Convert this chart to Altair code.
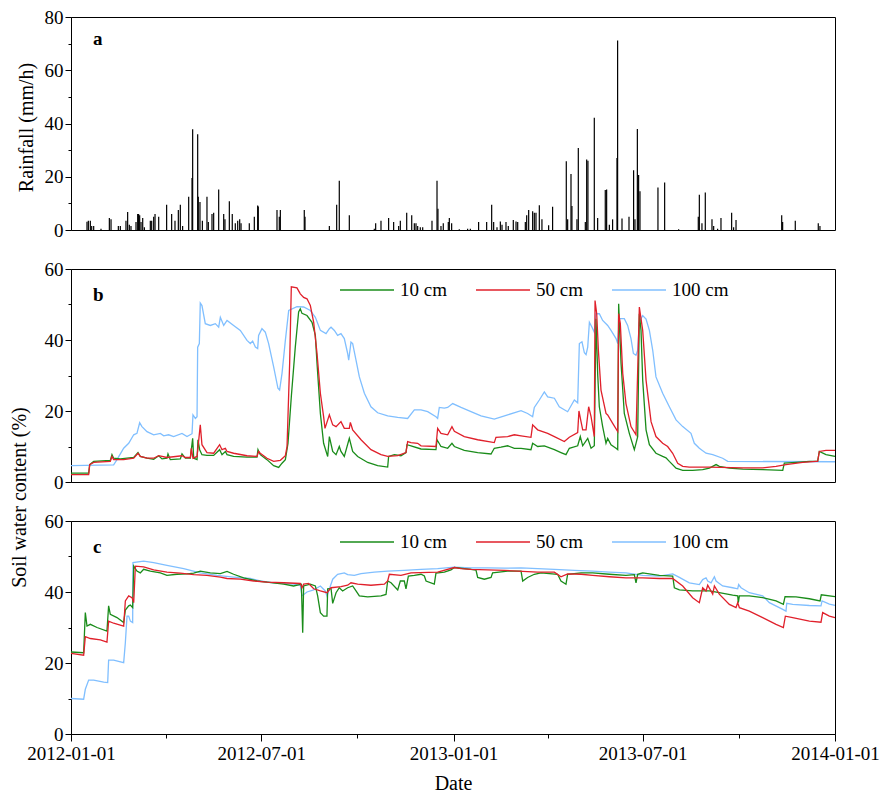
import altair as alt
import pandas as pd

FONT = "Liberation Serif"
START = pd.Timestamp("2012-01-01")

# ---------------- data (day offset from 2012-01-01, value) ----------------
rain = [
    (15.3, 3.1), (16.6, 3.5), (18.5, 3.5), (19.8, 1.5), (21.7, 1.5), (28.7, 0.5), (36.7, 4.5), (38.3, 4.0),
    (45.3, 1.5), (47.2, 1.5), (52.6, 3.5), (54.2, 6.8), (55.8, 2.0), (57.4, 1.5), (62.2, 3.0), (63.8, 6.0),
    (64.7, 6.0), (65.7, 5.5), (67.0, 3.0), (68.6, 4.5), (70.2, 1.0), (75.9, 3.5), (77.2, 3.5), (79.1, 5.0),
    (80.4, 6.0), (83.9, 5.0), (91.5, 9.5), (96.3, 6.0), (99.5, 3.5), (102.7, 7.5), (104.6, 9.5), (106.8, 1.5),
    (112.6, 12.5), (115.8, 19.5), (116.4, 37.8), (121.2, 36.0), (121.8, 12.5), (123.4, 10.5), (125.7, 3.5),
    (130.1, 12.5), (131.4, 3.0), (134.9, 6.0), (136.5, 6.5), (141.3, 15.2), (146.1, 6.0), (147.3, 4.0),
    (151.5, 10.8), (154.3, 6.0), (157.2, 2.5), (159.5, 3.5), (161.4, 4.0), (162.7, 2.5), (170.6, 2.5),
    (175.4, 5.0), (178.6, 9.2), (179.2, 8.8), (197.1, 7.5), (199.3, 5.0), (200.3, 7.5), (223.2, 7.5),
    (223.9, 5.0), (247.2, 1.5), (254.2, 9.5), (256.7, 18.5), (266.3, 5.5), (290.2, 0.5), (291.5, 2.5),
    (296.6, 3.5), (303.9, 4.5), (308.7, 3.0), (313.5, 1.5), (315.1, 3.5), (321.2, 6.5), (326.0, 5.5),
    (328.5, 2.5), (330.1, 2.5), (331.7, 1.5), (334.2, 1.0), (336.5, 1.0), (345.4, 3.5), (350.2, 18.5),
    (351.1, 8.0), (354.0, 1.5), (356.2, 2.5), (361.0, 3.0), (362.0, 4.5), (364.2, 2.5), (371.5, 0.3),
    (379.5, 0.5), (382.1, 0.5), (390.0, 3.0), (397.7, 3.0), (402.5, 9.5), (404.4, 3.0), (407.6, 1.0),
    (410.8, 3.2), (412.4, 2.0), (416.2, 3.0), (418.4, 1.5), (423.2, 3.8), (425.8, 3.2), (427.4, 3.0),
    (434.7, 3.0), (436.0, 5.5), (437.9, 7.5), (441.7, 7.0), (443.3, 6.5), (444.9, 6.5), (448.1, 9.3),
    (450.6, 4.0), (457.0, 1.8), (460.8, 8.7), (473.9, 25.8), (475.2, 4.0), (478.4, 21.0), (479.3, 9.0),
    (484.1, 4.0), (485.4, 30.8), (492.1, 3.0), (493.4, 26.5), (494.6, 26.0), (500.7, 42.2), (503.9, 4.5),
    (511.2, 15.0), (512.5, 15.2), (515.1, 2.0), (518.2, 4.0), (522.4, 27.0), (523.0, 71.2), (527.2, 4.3),
    (533.9, 5.0), (538.3, 22.4), (539.6, 4.0), (541.9, 37.9), (543.1, 20.7), (544.4, 14.6), (561.6, 16.0),
    (568.0, 17.8), (581.4, 0.3), (600.2, 5.0), (601.2, 13.2), (603.7, 2.5), (606.9, 14.1), (613.3, 4.0),
    (614.9, 1.5), (618.7, 0.5), (621.9, 4.5), (632.1, 6.5), (634.0, 1.0), (636.3, 3.8), (680.0, 5.5),
    (680.9, 3.0), (693.0, 3.5), (715.0, 2.5), (716.6, 1.5),
]

b_100 = [
    (0, 4.6), (40.8, 4.8), (44.0, 6.3), (50.4, 9.5), (55.2, 10.9), (60.0, 13.3), (63.1, 13.7), (65.7, 16.7),
    (67.9, 15.6), (72.7, 14.2), (79.1, 13.3), (85.5, 13.7), (88.7, 13.0), (93.4, 13.3), (98.2, 12.8),
    (106.2, 13.7), (111.0, 12.8), (115.8, 13.6), (116.7, 18.9), (119.0, 17.9), (120.6, 18.4), (121.2, 38.0),
    (122.8, 39.0), (123.7, 50.4), (125.3, 49.7), (128.5, 44.6), (133.3, 44.1), (138.1, 44.6), (141.3, 43.6),
    (142.9, 46.4), (146.1, 44.1), (149.3, 45.5), (155.6, 44.1), (162.0, 42.7), (168.4, 39.9), (171.6, 39.0),
    (173.8, 39.7), (176.4, 38.0), (178.6, 37.6), (179.5, 41.3), (182.7, 43.2), (185.9, 42.2), (189.1, 39.0),
    (193.9, 32.4), (198.0, 26.4), (199.6, 25.9), (201.9, 30.6), (205.1, 39.9), (208.3, 48.3), (216.2, 49.4),
    (222.6, 49.3), (229.0, 48.3), (233.8, 46.4), (238.6, 42.7), (244.0, 41.8), (247.2, 43.2), (248.8, 43.6),
    (252.0, 42.7), (255.1, 41.3), (258.3, 41.8), (261.5, 40.4), (264.7, 36.2), (265.7, 34.3), (267.9, 39.4),
    (269.5, 39.0), (272.7, 34.3), (275.9, 29.6), (280.7, 25.0), (287.0, 21.2), (293.4, 19.5), (303.0, 18.6),
    (312.6, 18.2), (322.1, 17.9), (328.5, 20.3), (334.9, 20.3), (341.3, 19.8), (349.2, 18.4), (350.8, 17.9),
    (352.4, 21.0), (357.2, 20.8), (360.4, 21.0), (365.2, 22.1), (373.2, 21.0), (382.7, 19.8), (392.3, 18.6),
    (405.0, 17.7), (417.8, 18.9), (430.6, 20.1), (436.9, 19.3), (441.7, 18.4), (443.3, 21.0), (448.1, 23.1),
    (452.9, 25.4), (456.1, 24.0), (462.5, 23.6), (467.2, 21.2), (475.2, 19.8), (481.6, 23.1), (484.8, 22.3),
    (486.4, 39.0), (488.9, 39.5), (491.2, 36.4), (492.8, 35.9), (494.4, 38.0), (496.0, 45.0), (498.5, 43.6),
    (500.7, 42.2), (502.3, 47.4), (505.5, 47.4), (508.7, 45.5), (513.5, 44.1), (516.7, 42.7), (521.5, 40.4),
    (523.1, 39.0), (524.7, 46.0), (529.4, 46.0), (532.6, 44.1), (535.8, 40.4), (538.1, 36.2), (540.6, 35.7),
    (542.2, 37.1), (543.8, 45.0), (547.0, 46.9), (550.2, 45.9), (553.4, 42.7), (556.6, 37.1), (559.7, 29.6),
    (566.1, 25.0), (572.5, 21.2), (578.9, 17.5), (585.3, 15.6), (593.2, 13.7), (596.4, 10.9), (601.2, 9.5),
    (607.6, 8.1), (614.0, 7.7), (623.5, 6.7), (628.3, 5.8), (731.0, 5.7),
]

b_10 = [
    (0, 2.5), (16.9, 2.5), (17.9, 4.9), (21.7, 5.8), (37.6, 6.1), (39.2, 7.7), (40.8, 6.7), (47.2, 6.5),
    (53.6, 6.7), (60.0, 6.9), (64.1, 8.3), (66.3, 7.2), (72.7, 6.7), (79.1, 6.4), (83.9, 7.4), (87.1, 6.5),
    (91.8, 6.7), (92.8, 7.9), (95.0, 6.3), (104.6, 6.5), (106.2, 7.9), (109.4, 6.7), (114.2, 6.7), (116.4, 12.3),
    (117.4, 6.7), (120.6, 6.3), (121.5, 11.9), (123.1, 9.1), (125.3, 7.7), (130.1, 7.5), (136.5, 7.5),
    (142.2, 9.1), (144.5, 7.7), (147.7, 8.6), (149.3, 7.7), (155.6, 7.2), (168.4, 7.0), (178.0, 7.0),
    (178.9, 9.1), (181.1, 7.7), (187.5, 6.3), (193.9, 4.6), (198.7, 4.1), (201.9, 5.3), (205.1, 6.3),
    (207.6, 10.9), (210.8, 24.0), (214.6, 38.0), (217.8, 47.9), (219.4, 48.8), (221.0, 47.5), (225.8, 46.9),
    (230.6, 45.0), (233.8, 41.3), (235.4, 33.4), (238.6, 19.3), (241.7, 10.9), (245.6, 7.2), (247.2, 12.8),
    (250.4, 8.6), (253.6, 7.7), (256.7, 10.0), (258.3, 8.6), (261.5, 7.2), (266.3, 12.3), (269.5, 8.6),
    (274.3, 7.2), (283.9, 5.5), (293.4, 4.6), (303.0, 4.2), (303.9, 7.2), (309.4, 7.7), (315.7, 7.4),
    (320.5, 8.3), (321.5, 10.5), (325.3, 10.2), (334.9, 9.3), (349.2, 9.1), (350.2, 11.9), (354.0, 10.0),
    (360.4, 9.5), (364.5, 10.9), (366.8, 10.0), (376.3, 8.9), (389.1, 8.3), (401.9, 7.9), (405.0, 9.5),
    (411.4, 9.8), (417.8, 10.2), (424.2, 9.5), (430.6, 9.5), (440.1, 9.1), (441.7, 10.9), (446.5, 10.0),
    (452.9, 10.2), (462.5, 9.1), (468.8, 8.3), (473.6, 7.7), (476.8, 9.5), (484.8, 10.2), (487.3, 12.8),
    (489.6, 10.2), (494.4, 12.3), (497.6, 9.5), (500.7, 10.2), (502.3, 46.0), (504.0, 30.0), (505.5, 21.2),
    (508.7, 15.6), (511.9, 10.9), (513.5, 12.3), (516.7, 10.5), (521.5, 9.5), (523.1, 9.1), (524.0, 50.2),
    (526.3, 33.4), (529.4, 19.3), (534.2, 13.7), (539.0, 9.1), (540.6, 10.9), (542.2, 12.8), (543.8, 47.4),
    (545.4, 42.7), (547.0, 28.7), (550.2, 14.7), (553.4, 10.5), (559.7, 8.1), (566.1, 7.2), (569.3, 6.8),
    (572.5, 5.8), (578.9, 3.9), (585.3, 3.3), (594.8, 3.3), (604.4, 3.5), (610.8, 3.9), (617.2, 4.9),
    (620.3, 4.4), (629.9, 3.9), (642.7, 3.6), (661.8, 3.5), (681.0, 3.3), (682.5, 5.3), (693.7, 5.5),
    (706.5, 5.8), (714.4, 5.8), (716.0, 8.6), (722.4, 7.7), (731.0, 7.2),
]

b_50 = [
    (0, 2.1), (16.9, 2.1), (17.9, 4.9), (21.7, 5.5), (37.6, 5.8), (39.2, 7.2), (40.8, 6.3), (50.4, 6.3),
    (60.0, 6.7), (64.1, 8.1), (66.3, 7.2), (72.7, 6.7), (79.1, 6.7), (83.9, 7.4), (91.8, 6.9), (106.2, 7.4),
    (109.4, 6.9), (114.2, 6.9), (115.1, 9.5), (116.7, 6.7), (120.6, 7.2), (123.7, 16.1), (125.3, 10.5),
    (130.1, 8.3), (136.5, 8.1), (142.2, 10.5), (144.5, 9.1), (147.7, 9.5), (149.3, 8.6), (155.6, 8.1),
    (168.4, 7.4), (178.0, 7.2), (179.5, 8.6), (181.1, 8.1), (187.5, 6.7), (193.9, 5.8), (200.3, 6.1),
    (205.1, 7.4), (206.7, 10.0), (209.2, 33.4), (210.8, 55.0), (216.2, 54.7), (219.4, 53.0), (222.6, 52.0),
    (225.8, 51.6), (229.0, 49.7), (232.2, 45.0), (235.4, 36.2), (238.6, 25.0), (241.7, 18.4), (243.0, 15.1),
    (247.2, 18.9), (250.4, 16.1), (253.6, 15.6), (258.3, 17.0), (261.5, 15.1), (266.3, 15.1), (267.3, 16.8),
    (269.5, 14.7), (277.5, 11.9), (287.0, 9.1), (296.6, 7.7), (303.0, 7.2), (312.6, 7.4), (320.5, 8.3),
    (322.1, 11.4), (325.3, 11.1), (331.7, 10.9), (334.9, 10.2), (349.2, 10.0), (350.8, 15.1), (354.0, 13.7),
    (360.4, 13.3), (364.5, 15.6), (366.8, 14.3), (376.3, 12.8), (389.1, 11.9), (405.0, 11.1), (406.6, 12.6),
    (417.8, 12.8), (424.2, 13.3), (430.6, 13.0), (440.1, 12.6), (441.7, 16.1), (446.5, 14.7), (456.1, 13.7),
    (462.5, 12.8), (472.0, 11.4), (476.8, 12.6), (484.8, 13.9), (486.0, 20.0), (488.0, 17.0), (489.6, 14.7),
    (492.8, 14.7), (495.3, 21.2), (497.6, 18.4), (500.7, 12.8), (501.4, 51.1), (503.0, 47.4), (504.6, 37.1),
    (507.1, 25.9), (511.9, 19.3), (513.5, 18.9), (518.3, 16.5), (523.1, 14.2), (524.0, 47.4), (525.6, 44.6),
    (527.9, 30.6), (531.0, 22.1), (535.8, 15.6), (540.6, 13.3), (543.8, 49.3), (547.0, 42.7), (550.2, 28.7),
    (555.0, 17.0), (559.7, 12.8), (566.1, 10.9), (570.9, 10.0), (575.7, 8.1), (580.5, 5.3), (585.3, 4.4),
    (591.6, 4.2), (610.8, 4.2), (642.7, 4.0), (661.8, 4.0), (674.6, 4.4), (684.1, 4.9), (700.1, 5.5),
    (712.8, 5.8), (714.4, 5.8), (716.0, 8.6), (722.4, 8.9), (731.0, 8.9),
]

c_100 = [
    (0, 10.0), (12.1, 9.8), (13.7, 12.6), (16.9, 15.2), (21.7, 15.2), (31.3, 14.6), (35.1, 14.5), (36.0, 20.8),
    (40.8, 20.8), (50.4, 20.1), (52.0, 25.7), (53.6, 33.2), (55.2, 33.2), (56.8, 31.8), (59.0, 31.4),
    (59.3, 48.3), (69.5, 48.7), (79.1, 48.3), (91.8, 47.5), (107.8, 46.6), (123.7, 45.4), (139.7, 44.7),
    (155.6, 44.2), (171.6, 43.8), (181.1, 43.1), (193.9, 42.6), (213.0, 42.2), (219.4, 41.9), (221.0, 38.9),
    (225.8, 40.0), (232.2, 40.6), (238.6, 41.7), (243.3, 40.3), (244.9, 38.9), (250.4, 43.6), (255.1, 45.0),
    (261.5, 45.4), (264.7, 44.9), (271.1, 44.7), (277.5, 45.2), (290.2, 45.6), (303.0, 45.9), (318.9, 46.1),
    (334.9, 46.4), (350.8, 46.6), (366.8, 47.0), (382.7, 46.8), (398.7, 46.8), (414.6, 46.7), (430.6, 46.8),
    (446.5, 46.6), (462.5, 46.4), (481.6, 46.1), (499.1, 45.9), (515.1, 45.6), (531.0, 45.4), (547.0, 44.7),
    (562.9, 44.5), (575.7, 45.1), (582.1, 44.1), (591.6, 42.6), (601.2, 42.1), (604.4, 43.5), (607.6, 44.0),
    (609.2, 43.1), (612.4, 42.6), (615.6, 44.3), (617.2, 43.1), (623.5, 41.7), (633.1, 41.2), (637.9, 40.9),
    (638.8, 42.1), (641.1, 41.2), (649.0, 39.8), (661.8, 38.9), (668.2, 37.0), (681.0, 35.1), (684.1, 34.6),
    (684.8, 36.8), (690.5, 36.5), (706.5, 36.2), (717.6, 36.1), (718.6, 37.5), (725.6, 36.6), (731.0, 36.2),
]

c_10 = [
    (0, 23.1), (12.1, 22.9), (13.7, 34.2), (15.3, 30.4), (18.5, 30.9), (24.9, 30.0), (34.4, 29.0), (36.0, 36.1),
    (37.6, 33.7), (44.0, 32.8), (50.4, 31.4), (52.0, 34.9), (55.2, 36.1), (56.8, 36.3), (59.0, 35.6),
    (60.0, 47.3), (63.1, 45.9), (66.3, 45.4), (69.5, 46.4), (75.9, 45.9), (85.5, 45.4), (91.8, 44.7),
    (101.4, 45.0), (111.0, 45.1), (117.4, 45.3), (123.7, 45.9), (133.3, 45.4), (142.9, 45.2), (149.3, 45.8),
    (155.6, 45.0), (165.2, 44.0), (178.0, 43.1), (187.5, 42.8), (203.5, 42.2), (213.0, 41.7), (220.4, 42.2),
    (221.7, 28.5), (222.6, 41.7), (229.0, 42.2), (233.8, 41.7), (236.0, 38.9), (238.6, 34.2), (241.7, 33.2),
    (244.9, 33.2), (245.6, 40.9), (248.8, 41.0), (250.4, 36.8), (253.6, 39.8), (256.7, 41.2), (259.9, 40.3),
    (264.7, 41.2), (269.5, 41.7), (272.7, 40.3), (275.9, 38.9), (283.9, 38.6), (296.6, 38.9), (301.4, 39.3),
    (303.0, 43.1), (306.2, 42.6), (312.6, 40.6), (315.1, 43.1), (318.9, 43.1), (320.5, 40.9), (322.8, 44.5),
    (328.5, 44.7), (334.9, 45.0), (338.1, 44.5), (339.7, 43.1), (347.6, 42.2), (349.2, 45.3), (357.2, 45.6),
    (363.6, 46.2), (366.8, 46.9), (382.7, 46.4), (387.5, 46.2), (389.1, 44.1), (395.5, 43.6), (401.9, 44.1),
    (403.4, 45.4), (417.8, 45.9), (430.6, 45.9), (432.2, 43.1), (436.9, 44.1), (443.3, 45.0), (449.7, 45.4),
    (465.6, 45.0), (468.8, 43.1), (473.6, 42.2), (475.2, 45.0), (488.0, 45.4), (499.1, 45.4), (515.1, 45.0),
    (531.0, 44.7), (539.0, 44.9), (540.6, 42.6), (542.2, 45.0), (547.0, 45.4), (562.9, 44.7), (575.7, 44.5),
    (577.3, 41.2), (582.1, 40.6), (594.8, 40.3), (610.8, 40.3), (620.3, 39.8), (633.1, 39.1), (637.9, 38.9),
    (638.5, 37.0), (639.5, 38.9), (649.0, 38.9), (661.8, 38.4), (674.6, 37.5), (681.6, 36.5), (683.2, 38.7),
    (693.7, 38.6), (706.5, 38.1), (716.7, 37.5), (717.9, 39.2), (731.0, 38.7),
]

c_50 = [
    (0, 22.7), (12.1, 22.2), (13.7, 27.4), (18.5, 26.9), (28.1, 26.5), (34.4, 25.9), (36.0, 31.8), (40.8, 31.2),
    (50.4, 30.4), (52.0, 37.5), (55.2, 38.9), (58.4, 38.4), (60.0, 37.0), (61.6, 47.3), (69.5, 47.1),
    (79.1, 46.2), (91.8, 45.6), (104.6, 45.3), (117.4, 44.9), (130.1, 44.7), (142.9, 44.2), (149.3, 43.8),
    (162.0, 43.6), (174.8, 43.1), (187.5, 42.8), (203.5, 42.6), (219.4, 42.4), (221.0, 41.2), (222.6, 42.2),
    (227.4, 42.4), (232.2, 40.9), (238.6, 40.3), (244.9, 39.8), (248.8, 41.2), (258.3, 41.5), (264.7, 41.9),
    (267.9, 42.6), (274.3, 42.2), (287.0, 41.9), (299.8, 42.2), (303.0, 43.1), (304.6, 45.0), (315.7, 44.7),
    (325.3, 45.4), (350.8, 45.6), (366.8, 46.9), (373.2, 46.6), (382.7, 46.4), (414.6, 46.1), (446.5, 45.6),
    (462.5, 45.6), (468.8, 44.3), (475.2, 45.1), (488.0, 45.0), (499.1, 44.7), (515.1, 44.3), (531.0, 44.0),
    (547.0, 44.0), (562.9, 43.8), (575.7, 43.8), (585.3, 41.7), (594.8, 38.4), (601.2, 37.0), (604.4, 41.2),
    (607.6, 40.3), (609.2, 41.9), (614.0, 39.4), (615.6, 41.7), (620.3, 39.4), (629.9, 36.5), (636.3, 35.6),
    (637.9, 37.0), (639.5, 35.6), (649.0, 34.6), (661.8, 32.8), (674.6, 30.9), (681.6, 30.0), (683.5, 33.2),
    (690.5, 32.8), (706.5, 31.8), (717.6, 31.5), (719.2, 34.2), (725.6, 33.2), (731.0, 32.8),
]

depths = ["10 cm", "50 cm", "100 cm"]
depth_colors = ["#1a8c1a", "#e0202b", "#80bfff"]
panel_letters = ["a", "b", "c"]
quarter_ticks = [(2012, 1), (2012, 4), (2012, 7), (2012, 10), (2013, 1), (2013, 4), (2013, 7), (2013, 10), (2014, 1)]


# ---------------- helpers ----------------
def to_frame(pairs, name):
    days = [p[0] for p in pairs]
    vals = [p[1] for p in pairs]
    return pd.DataFrame({"date": START + pd.to_timedelta(days, unit="D"), "value": vals, "depth": name})


x_scale = alt.Scale(domain=[alt.DateTime(year=2012, month=1, date=1),
                            alt.DateTime(year=2014, month=1, date=1)], nice=False)
color_scale = alt.Scale(domain=depths, range=depth_colors)

W, H = 764, 213


def y_axis(maxv, **kw):
    return alt.Axis(values=list(range(0, maxv + 1, 10)),
                    labelExpr="datum.value % 20 === 0 ? datum.label : ''",
                    tickSize={"condition": {"test": "datum.value % 20 === 0", "value": 6}, "value": 3},
                    labelPadding=2, labelFont=FONT, titleFont=FONT, **kw)


def legend():
    return alt.Legend(orient="none", legendX=268, legendY=-7, direction="horizontal", title=None,
                      symbolType="stroke", symbolSize=2916, symbolStrokeWidth=1.5,
                      labelFont=FONT, labelFontSize=19, labelColor="black", labelOffset=5,
                      columnPadding=26, padding=0)


def letter(t, y):
    return alt.Chart(pd.DataFrame({"t": [t]})).mark_text(
        font=FONT, fontSize=19, fontWeight="bold", align="left", baseline="alphabetic", color="black"
    ).encode(x=alt.value(22), y=alt.value(y), text="t:N")


# ---------------- panel a ----------------
rain_df = pd.DataFrame({"date": START + pd.to_timedelta([r[0] for r in rain], unit="D"),
                        "mm": [r[1] for r in rain]})
rain_chart = alt.Chart(rain_df).mark_rule(color="black", strokeWidth=1.2).encode(
    x=alt.X("date:T", scale=x_scale, axis=None),
    y=alt.Y("mm:Q", scale=alt.Scale(domain=[0, 80], nice=False),
            axis=y_axis(80, title="Rainfall (mm/h)", titleX=-45, titleY=110, titleAngle=270,
                        titleBaseline="middle", titleAlign="center")),
    y2=alt.datum(0),
)
panel_a = alt.layer(rain_chart, letter(panel_letters[0], 28)).properties(width=W, height=H)

# ---------------- panel b ----------------
b_df = pd.concat([to_frame(b_100, "100 cm"), to_frame(b_10, "10 cm"), to_frame(b_50, "50 cm")])
b_lines = alt.Chart(b_df).mark_line(strokeWidth=1.3).encode(
    x=alt.X("date:T", scale=x_scale, axis=None),
    y=alt.Y("value:Q", scale=alt.Scale(domain=[0, 60], nice=False),
            axis=y_axis(60, title="Soil water content (%)", titleX=-52, titleY=228, titleAngle=270,
                        titleBaseline="middle", titleAlign="center")),
    color=alt.Color("depth:N", scale=color_scale, legend=legend()),
)
panel_b = alt.layer(b_lines, letter(panel_letters[1], 32)).properties(width=W, height=H)

# ---------------- panel c ----------------
c_df = pd.concat([to_frame(c_100, "100 cm"), to_frame(c_10, "10 cm"), to_frame(c_50, "50 cm")])
c_lines = alt.Chart(c_df).mark_line(strokeWidth=1.3).encode(
    x=alt.X("date:T", scale=x_scale,
            axis=alt.Axis(values=[alt.DateTime(year=y, month=m, date=1) for y, m in quarter_ticks],
                          format="%Y-%m-%d",
                          labelExpr="month(datum.value) % 6 === 0 ? datum.label : ''",
                          tickSize={"condition": {"test": "month(datum.value) % 6 === 0", "value": 7},
                                    "value": 4},
                          labelFlush=False, labelOverlap=False, labelPadding=3,
                          labelFont=FONT, titleFont=FONT,
                          title="Date", titlePadding=10)),
    y=alt.Y("value:Q", scale=alt.Scale(domain=[0, 60], nice=False), axis=y_axis(60, title=None)),
    color=alt.Color("depth:N", scale=color_scale, legend=legend()),
)
panel_c = alt.layer(c_lines, letter(panel_letters[2], 32)).properties(width=W, height=H)

chart = alt.vconcat(panel_a, panel_b, panel_c, spacing=39, bounds="flush").resolve_scale(
    color="independent"
).properties(
    padding={"left": 8, "top": 7, "right": 5, "bottom": 2}
).configure(
    font=FONT
).configure_view(
    stroke="black", strokeWidth=1
).configure_axis(
    grid=False, labelFont=FONT, labelFontSize=19, labelColor="black", titleFont=FONT, titleFontSize=20,
    titleFontWeight="normal", titleColor="black", domainColor="black", tickColor="black", domainWidth=1,
).configure_legend(
    labelFont=FONT
)

chart.save("out.html", embed_options={"renderer": "svg", "actions": False})
